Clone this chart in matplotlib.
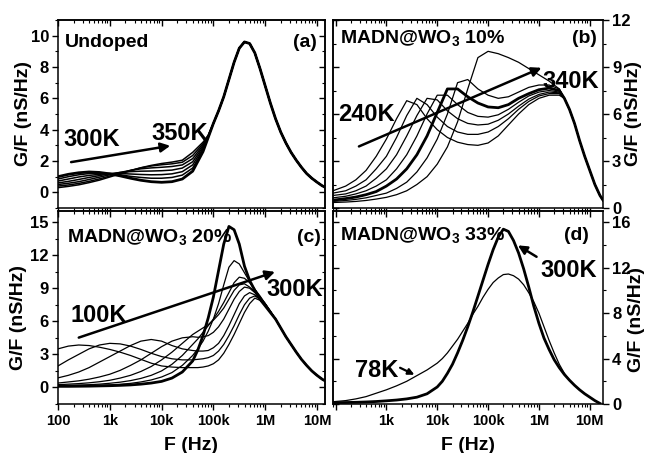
import numpy as np
import matplotlib
matplotlib.use('Agg')
import matplotlib.pyplot as plt
from matplotlib.ticker import MultipleLocator, FixedLocator, LogLocator, NullFormatter, FuncFormatter

plt.rcParams['font.family'] = ['Liberation Sans', 'DejaVu Sans']
plt.rcParams['font.weight'] = 'bold'
plt.rcParams['mathtext.fontset'] = 'custom'
plt.rcParams['mathtext.rm'] = 'Liberation Sans:bold'
plt.rcParams['mathtext.it'] = 'Liberation Sans:bold'
plt.rcParams['mathtext.bf'] = 'Liberation Sans:bold'
plt.rcParams['mathtext.default'] = 'rm'
plt.rcParams['axes.linewidth'] = 1.1

# ---------------- data (log10 of frequency in Hz, G/F in nS/Hz) ----------------
# Panel (a): undoped, 300K -> 350K
logf_a_low = [2.0, 2.2, 2.4, 2.6, 2.8, 3.0, 3.2, 3.4, 3.6, 3.8, 4.0, 4.2, 4.4, 4.6, 4.8, 4.9]
a_300K = [1.0, 1.15, 1.25, 1.3, 1.27, 1.18, 1.05, 0.9, 0.77, 0.68, 0.64, 0.68, 0.85, 1.35, 2.6, 3.5]
a_2 = [0.85, 1.0, 1.12, 1.2, 1.22, 1.2, 1.12, 1.02, 0.95, 0.9, 0.9, 0.95, 1.1, 1.55, 2.7, 3.5]
a_3 = [0.72, 0.85, 0.98, 1.08, 1.15, 1.2, 1.2, 1.17, 1.14, 1.12, 1.13, 1.18, 1.32, 1.75, 2.8, 3.55]
a_4 = [0.6, 0.7, 0.82, 0.95, 1.07, 1.18, 1.27, 1.32, 1.35, 1.36, 1.38, 1.42, 1.55, 1.95, 2.9, 3.55]
a_5 = [0.5, 0.58, 0.68, 0.82, 0.97, 1.12, 1.27, 1.4, 1.5, 1.56, 1.6, 1.65, 1.75, 2.15, 3.0, 3.6]
a_6 = [0.4, 0.47, 0.57, 0.7, 0.86, 1.04, 1.22, 1.4, 1.56, 1.68, 1.76, 1.82, 1.92, 2.35, 3.1, 3.6]
a_350K = [0.3, 0.38, 0.48, 0.62, 0.78, 0.98, 1.18, 1.38, 1.57, 1.72, 1.84, 1.93, 2.05, 2.55, 3.2, 3.65]
logf_a_tail = [5.0, 5.1, 5.2, 5.3, 5.4, 5.5, 5.6, 5.7, 5.8, 5.9, 6.0, 6.1, 6.2, 6.3, 6.4, 6.5,
               6.6, 6.7, 6.8, 6.9, 7.0, 7.1, 7.2]
a_tail = [4.4, 5.2, 6.1, 7.2, 8.3, 9.2, 9.6, 9.5, 8.9, 7.9, 6.8, 5.7, 4.7, 3.85, 3.15, 2.55,
          2.05, 1.6, 1.2, 0.9, 0.65, 0.42, 0.25]

# Panel (b): MADN@WO3 10 %, 240K -> 340K
logf_b_low = [1.95, 2.2, 2.4, 2.6, 2.8, 3.0, 3.2, 3.4, 3.6, 3.8, 4.0, 4.2, 4.4, 4.6, 4.8, 5.0,
              5.2, 5.4, 5.6, 5.8, 6.0, 6.2, 6.4]
b_240K = [1.1, 1.4, 1.8, 2.4, 3.3, 4.4, 5.7, 6.85, 6.6, 5.7, 5.0, 4.5, 4.2, 4.05, 4.0, 4.15,
          4.6, 5.3, 6.0, 6.6, 7.0, 7.2, 7.2]
b_2 = [0.95, 1.1, 1.4, 1.8, 2.5, 3.3, 4.5, 5.9, 7.0, 6.6, 5.8, 5.2, 4.85, 4.7, 4.7, 4.85,
       5.2, 5.7, 6.3, 6.8, 7.15, 7.3, 7.3]
b_3 = [0.8, 0.9, 1.1, 1.4, 1.9, 2.5, 3.4, 4.6, 5.9, 7.0, 6.9, 6.2, 5.7, 5.4, 5.3, 5.35,
       5.6, 6.0, 6.5, 6.95, 7.25, 7.4, 7.35]
b_4 = [0.65, 0.75, 0.9, 1.1, 1.4, 1.8, 2.5, 3.4, 4.6, 6.0, 7.2, 7.2, 6.6, 6.1, 5.85, 5.8,
       5.95, 6.3, 6.75, 7.15, 7.4, 7.5, 7.4]
b_5 = [0.5, 0.6, 0.7, 0.85, 1.05, 1.4, 1.85, 2.5, 3.4, 4.6, 6.1, 7.6, 7.6, 7.1, 6.7, 6.45,
       6.4, 6.6, 7.0, 7.3, 7.55, 7.65, 7.5]
b_6 = [0.42, 0.48, 0.55, 0.65, 0.8, 0.95, 1.25, 1.65, 2.3, 3.2, 4.4, 6.0, 8.0, 8.2, 7.6, 7.2,
       7.0, 7.1, 7.4, 7.7, 7.85, 7.85, 7.6]
b_340K = [0.35, 0.38, 0.42, 0.48, 0.57, 0.68, 0.85, 1.1, 1.5, 2.0, 2.8, 3.9, 5.5, 7.6, 9.6, 10.0,
          9.85, 9.6, 9.3, 8.9, 8.5, 8.1, 7.6]
logf_b_tail = [6.5, 6.6, 6.7, 6.8, 6.9, 7.0, 7.1, 7.2, 7.26]
b_tail = [7.0, 6.3, 5.4, 4.3, 3.3, 2.4, 1.5, 0.8, 0.5]

# Panel (c): MADN@WO3 20 %, 100K -> 300K
logf_c_low = [2.0, 2.2, 2.4, 2.6, 2.8, 3.0, 3.2, 3.4, 3.6, 3.8, 4.0, 4.2, 4.4, 4.6, 4.7, 4.8,
              4.9, 5.0, 5.1, 5.2, 5.3, 5.4, 5.5, 5.6, 5.7, 5.8, 5.9, 6.0, 6.1, 6.2]
c_100K = [3.5, 3.75, 3.85, 3.8, 3.65, 3.45, 3.2, 2.9, 2.55, 2.2, 1.95, 1.85, 1.8, 1.8, 1.8, 1.85,
          1.95, 2.15, 2.5, 3.1, 3.9, 4.8, 5.8, 6.8, 7.6, 8.1, 7.9, 7.4, 6.8, 6.2]
c_2 = [1.95, 2.5, 3.0, 3.5, 3.85, 4.0, 3.95, 3.75, 3.45, 3.1, 2.8, 2.6, 2.5, 2.5, 2.55, 2.6,
       2.7, 2.9, 3.3, 3.9, 4.7, 5.6, 6.6, 7.5, 8.1, 8.3, 8.0, 7.5, 6.85, 6.2]
c_3 = [0.87, 1.1, 1.4, 1.8, 2.3, 2.8, 3.3, 3.8, 4.2, 4.35, 4.2, 3.8, 3.5, 3.35, 3.3, 3.3,
       3.35, 3.6, 4.0, 4.7, 5.6, 6.6, 7.6, 8.3, 8.6, 8.4, 8.0, 7.5, 6.85, 6.2]
c_4 = [0.4, 0.5, 0.6, 0.75, 0.95, 1.2, 1.55, 2.0, 2.5, 3.1, 3.7, 4.2, 4.5, 4.6, 4.55, 4.6,
       4.7, 5.0, 5.5, 6.2, 7.1, 8.0, 8.7, 9.1, 9.0, 8.6, 8.1, 7.6, 6.9, 6.2]
c_5 = [0.25, 0.3, 0.35, 0.42, 0.52, 0.65, 0.85, 1.1, 1.45, 1.9, 2.5, 3.2, 4.0, 4.8, 5.1, 5.4,
       5.7, 6.1, 6.6, 7.2, 8.0, 8.8, 9.3, 9.4, 9.1, 8.7, 8.2, 7.6, 6.9, 6.2]
c_6 = [0.18, 0.2, 0.22, 0.25, 0.3, 0.38, 0.48, 0.62, 0.82, 1.1, 1.5, 2.1, 2.9, 3.9, 4.4, 5.0,
       5.6, 6.2, 6.9, 7.7, 8.6, 9.5, 10.0, 9.9, 9.5, 8.9, 8.3, 7.6, 6.95, 6.2]
c_7 = [0.12, 0.13, 0.14, 0.16, 0.19, 0.23, 0.29, 0.37, 0.5, 0.68, 0.95, 1.35, 2.0, 2.9, 3.5, 4.2,
       5.1, 6.2, 7.6, 9.3, 10.9, 11.5, 11.2, 10.4, 9.6, 8.9, 8.2, 7.6, 6.9, 6.2]
c_300K = [0.1, 0.1, 0.11, 0.12, 0.14, 0.16, 0.19, 0.23, 0.3, 0.4, 0.55, 0.85, 1.4, 2.4, 3.4, 4.7,
          6.3, 8.2, 10.6, 13.0, 14.6, 14.3, 13.0, 11.0, 9.7, 8.8, 8.0, 7.4, 6.8, 6.2]
logf_c_tail = [6.3, 6.4, 6.5, 6.6, 6.7, 6.8, 6.9, 7.0, 7.1, 7.2]
c_tail = [5.4, 4.6, 3.9, 3.2, 2.55, 2.0, 1.5, 1.1, 0.75, 0.48]

# Panel (d): MADN@WO3 33 %, 78K and 300K
logf_d = [1.95, 2.2, 2.4, 2.6, 2.8, 3.0, 3.2, 3.4, 3.6, 3.8, 4.0, 4.1, 4.2, 4.3, 4.4, 4.5, 4.6,
          4.7, 4.8, 4.9, 5.0, 5.1, 5.2, 5.3, 5.4, 5.5, 5.6, 5.7, 5.8, 5.9, 6.0, 6.1, 6.2, 6.3,
          6.4, 6.5, 6.6, 6.7, 6.8, 6.9, 7.0, 7.1, 7.2]
d_300K = [0.12, 0.13, 0.15, 0.18, 0.22, 0.28, 0.35, 0.45, 0.6, 0.9, 1.5, 2.0, 2.7, 3.5, 4.5, 5.6,
          6.8, 8.1, 9.5, 10.9, 12.3, 13.6, 14.7, 15.4, 15.2, 14.4, 13.3, 11.9, 10.3, 8.6, 7.1,
          5.8, 4.8, 3.9, 3.2, 2.6, 2.1, 1.65, 1.25, 0.9, 0.6, 0.3, 0.05]
d_78K = [0.2, 0.3, 0.45, 0.65, 0.95, 1.25, 1.6, 2.0, 2.5, 3.0, 3.6, 4.0, 4.5, 5.1, 5.7, 6.4,
         7.1, 7.9, 8.6, 9.4, 10.1, 10.7, 11.1, 11.4, 11.45, 11.3, 11.0, 10.5, 9.8, 9.0, 8.0,
         6.8, 5.6, 4.5, 3.5, 2.7, 2.1, 1.65, 1.25, 0.9, 0.6, 0.3, 0.05]

xtick_text = {1e2: '100', 1e3: '1k', 1e4: '10k', 1e5: '100k', 1e6: '1M', 1e7: '10M'}

# ---------------- figure ----------------
W, H = 645, 453
fig = plt.figure(figsize=(W / 100, H / 100), dpi=100)


def box(l, t, r, b):
    return [l / W, 1 - b / H, (r - l) / W, (b - t) / H]


axA = fig.add_axes(box(58, 20, 325, 208))
axB = fig.add_axes(box(333, 20, 603, 208))
axC = fig.add_axes(box(58, 211, 325, 404))
axD = fig.add_axes(box(333, 211, 603, 404))

THIN, BOLD = 0.9, 2.0


def L(v):
    return 10.0 ** np.asarray(v, dtype=float)


def style(ax, yside, ymaj, ylim, xlim, show_xlabels, hide100=False):
    ax.set_xscale('log')
    ax.set_xlim(*xlim)
    ax.set_ylim(*ylim)
    majors = [1e2, 1e3, 1e4, 1e5, 1e6, 1e7]

    def fmt(v, pos):
        if hide100 and abs(v - 1e2) < 1:
            return ''
        for k, s in xtick_text.items():
            if abs(v - k) / k < 1e-6:
                return s
        return ''

    ax.xaxis.set_major_locator(FixedLocator(majors))
    ax.xaxis.set_minor_locator(LogLocator(base=10, subs=np.arange(2, 10)))
    ax.xaxis.set_minor_formatter(NullFormatter())
    ax.xaxis.set_major_formatter(FuncFormatter(fmt) if show_xlabels else NullFormatter())
    ax.tick_params(axis='x', which='both', direction='out', top=False, bottom=True,
                   labelsize=10.5, pad=3.5)
    ax.tick_params(axis='x', which='major', length=4, width=1.0)
    ax.tick_params(axis='x', which='minor', length=2.2, width=0.8)
    sx = ax.secondary_xaxis('top')
    sx.xaxis.set_major_locator(FixedLocator(majors))
    sx.xaxis.set_minor_locator(LogLocator(base=10, subs=np.arange(2, 10)))
    sx.xaxis.set_major_formatter(NullFormatter())
    sx.xaxis.set_minor_formatter(NullFormatter())
    sx.tick_params(axis='x', which='major', direction='in', length=4, width=1.0)
    sx.tick_params(axis='x', which='minor', direction='in', length=2.2, width=0.8)
    sx.spines['top'].set_linewidth(1.1)

    ax.yaxis.set_major_locator(MultipleLocator(ymaj))
    ax.yaxis.set_minor_locator(MultipleLocator(ymaj / 2))
    other = 'left' if yside == 'right' else 'right'
    if yside == 'right':
        ax.yaxis.tick_right()
    ax.tick_params(axis='y', which='both', direction='out', labelsize=12, pad=2.5)
    ax.tick_params(axis='y', which='major', length=4, width=1.0)
    ax.tick_params(axis='y', which='minor', length=2.2, width=0.8)
    sy = ax.secondary_yaxis(other)
    sy.yaxis.set_major_locator(MultipleLocator(ymaj))
    sy.yaxis.set_minor_locator(MultipleLocator(ymaj / 2))
    sy.yaxis.set_major_formatter(NullFormatter())
    sy.tick_params(axis='y', which='major', direction='in', length=4, width=1.0)
    sy.tick_params(axis='y', which='minor', direction='in', length=2.2, width=0.8)
    sy.spines[other].set_linewidth(1.1)


# ---- (a)
for vals in [a_2, a_3, a_4, a_5, a_6, a_350K]:
    axA.plot(L(logf_a_low + logf_a_tail), list(vals) + a_tail, color='k', lw=1.1)
axA.plot(L(logf_a_low + logf_a_tail), a_300K + a_tail, color='k', lw=BOLD)
style(axA, 'left', 2, (-1, 11), (1e2, 10 ** 7.155), False)
axA.annotate('', xy=(10 ** 4.22, 3.0), xytext=(10 ** 2.2, 1.9),
             arrowprops=dict(arrowstyle='-|>', lw=1.8, color='k', mutation_scale=14))
axA.text(10 ** 2.66, 3.36, '300K', fontsize=17, ha='center', va='center')
axA.text(10 ** 4.35, 3.74, '350K', fontsize=17, ha='center', va='center')
axA.text(0.026, 0.858, 'Undoped', transform=axA.transAxes, fontsize=14, ha='left', va='baseline')
axA.text(0.970, 0.858, '(a)', transform=axA.transAxes, fontsize=14, ha='right', va='baseline')
axA.set_ylabel('G/F (nS/Hz)', fontsize=14, fontweight='bold')
axA.yaxis.set_label_coords(-0.097, 0.5)

# ---- (b)
for vals in [b_240K, b_2, b_3, b_4, b_6, b_340K]:
    axB.plot(L(logf_b_low + logf_b_tail), list(vals) + b_tail, color='k', lw=THIN)
axB.plot(L(logf_b_low + logf_b_tail), b_5 + b_tail, color='k', lw=BOLD)
style(axB, 'right', 3, (0, 12), (10 ** 1.95, 10 ** 7.26), False)
axB.annotate('', xy=(10 ** 6.1, 9.02), xytext=(10 ** 2.41, 3.86),
             arrowprops=dict(arrowstyle='-|>', lw=1.8, color='k', mutation_scale=14))
axB.text(10 ** 2.6, 5.95, '240K', fontsize=17, ha='center', va='center')
axB.text(10 ** 6.62, 8.07, '340K', fontsize=17, ha='center', va='center')
axB.text(0.026, 0.876, 'MADN@WO$_3$ 10%', transform=axB.transAxes, fontsize=14,
         ha='left', va='baseline')
axB.text(0.977, 0.876, '(b)', transform=axB.transAxes, fontsize=14, ha='right', va='baseline')
axB.yaxis.set_label_position('right')
axB.set_ylabel('G/F (nS/Hz)', fontsize=14, fontweight='bold', rotation=90)
axB.yaxis.set_label_coords(1.082, 0.5)

# ---- (c)
for vals in [c_100K, c_2, c_3, c_4, c_5, c_6, c_7]:
    axC.plot(L(logf_c_low + logf_c_tail), list(vals) + c_tail, color='k', lw=THIN)
axC.plot(L(logf_c_low + logf_c_tail), c_300K + c_tail, color='k', lw=BOLD)
style(axC, 'left', 3, (-1.5, 16), (1e2, 10 ** 7.155), True)
axC.annotate('', xy=(10 ** 6.24, 10.56), xytext=(10 ** 2.35, 4.44),
             arrowprops=dict(arrowstyle='-|>', lw=1.8, color='k', mutation_scale=14))
axC.text(10 ** 2.79, 6.55, '100K', fontsize=17, ha='center', va='center')
axC.text(10 ** 6.58, 8.88, '300K', fontsize=17, ha='center', va='center')
axC.text(0.032, 0.841, 'MADN@WO$_3$ 20%', transform=axC.transAxes, fontsize=14,
         ha='left', va='baseline')
axC.text(0.985, 0.841, '(c)', transform=axC.transAxes, fontsize=14, ha='right', va='baseline')
axC.set_ylabel('G/F (nS/Hz)', fontsize=14, fontweight='bold')
axC.yaxis.set_label_coords(-0.116, 0.45)
axC.set_xlabel('F (Hz)', fontsize=14, fontweight='bold', labelpad=6)

# ---- (d)
axD.plot(L(logf_d), d_78K, color='k', lw=THIN)
axD.plot(L(logf_d), d_300K, color='k', lw=BOLD)
style(axD, 'right', 4, (0, 17), (10 ** 1.95, 10 ** 7.26), True, hide100=True)
axD.annotate('', xy=(10 ** 5.54, 14.1), xytext=(10 ** 6.0, 12.84),
             arrowprops=dict(arrowstyle='-|>', lw=1.8, color='k', mutation_scale=13))
axD.annotate('', xy=(10 ** 3.6, 2.47), xytext=(10 ** 3.22, 3.3),
             arrowprops=dict(arrowstyle='-|>', lw=1.6, color='k', mutation_scale=9))
axD.text(10 ** 6.59, 11.8, '300K', fontsize=17, ha='center', va='center')
axD.text(10 ** 2.81, 2.92, '78K', fontsize=17, ha='center', va='center')
axD.text(0.026, 0.85, 'MADN@WO$_3$ 33%', transform=axD.transAxes, fontsize=14,
         ha='left', va='baseline')
axD.text(0.948, 0.85, '(d)', transform=axD.transAxes, fontsize=14, ha='right', va='baseline')
axD.yaxis.set_label_position('right')
axD.set_ylabel('G/F (nS/Hz)', fontsize=14, fontweight='bold', rotation=90)
axD.yaxis.set_label_coords(1.093, 0.44)
axD.set_xlabel('F (Hz)', fontsize=14, fontweight='bold', labelpad=6)

fig.savefig('out.png', dpi=100)
